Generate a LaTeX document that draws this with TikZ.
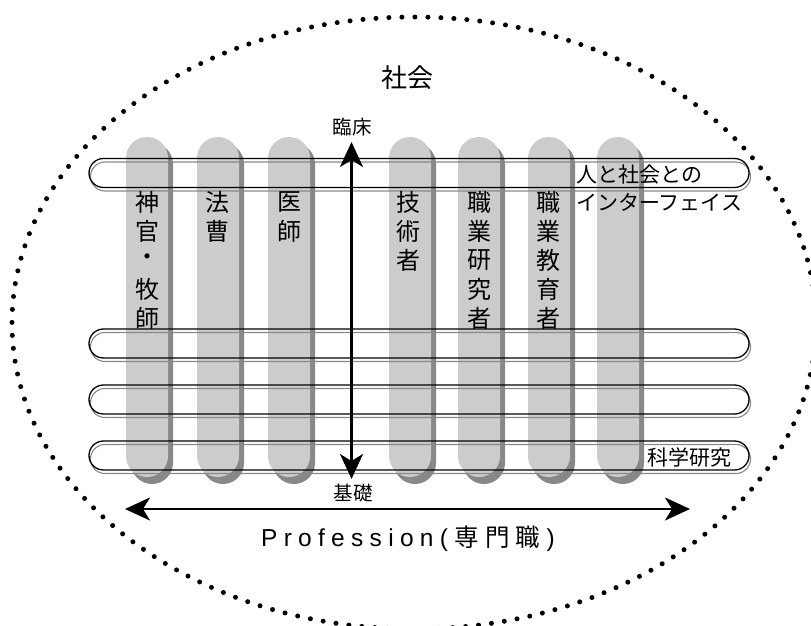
\documentclass[tikz,border=0pt]{standalone}
\usepackage{fontspec}
\newfontfamily\jp{Noto Sans CJK JP}
\newfontfamily\lat{Liberation Sans}
\usetikzlibrary{arrows.meta}
\definecolor{pillarfill}{HTML}{CCCCCC}
\definecolor{shadefill}{HTML}{888888}
\newcommand\lsk{\kern6.3pt}
\begin{document}
\begin{tikzpicture}[x=1pt,y=-1pt,
  pillarbody/.style={fill=pillarfill, rounded corners=21pt},
  pillarshade/.style={fill=shadefill, rounded corners=21pt},
  bandline/.style={draw=black, line width=1.3pt, rounded corners=14.5pt},
  bandshade/.style={draw=shadefill, line width=1.1pt, rounded corners=14.5pt},
  vchar/.style={font=\jp\fontsize{24}{24}\selectfont, inner sep=0pt},
  labeltxt/.style={font=\jp\fontsize{21}{21}\selectfont, inner sep=0pt},
  smalltxt/.style={font=\jp\fontsize{19.5}{19.5}\selectfont, inner sep=0pt},
  bigtxt/.style={font=\jp\fontsize{26}{26}\selectfont, inner sep=0pt},
  dblarrow/.style={line width=2.6pt,
    {Stealth[length=25pt,width=23pt,inset=7pt]}-{Stealth[length=25pt,width=23pt,inset=7pt]}},
  dotted ellipse/.style={line width=5pt, line cap=round, dash pattern=on 0pt off 13pt}
]
\useasboundingbox (0,0) rectangle (811,626);
\clip (0,0) rectangle (811,626);

% society ellipse
\draw[dotted ellipse] (414,323) ellipse [x radius=402, y radius=306];

% pillars
\foreach \L in {126,197,268,389,458,528,597} {
  \fill[pillarshade] (\L+5,143) rectangle (\L+47,484);
  \fill[pillarbody] (\L,137) rectangle (\L+42,477);
}

% bands
\foreach \c in {173,343.5,399.5,455.5} {
  \draw[bandshade] (90.5,\c-11) rectangle (750.5,\c+18);
  \draw[bandline] (89,\c-14.5) rectangle (749,\c+14.5);
}

% vertical arrow
\coordinate (vtop) at (351.5,142);
\coordinate (vbot) at (351.5,479);
\draw[dblarrow] (vtop) -- (vbot);

% horizontal arrow
\coordinate (hleft) at (125,509);
\coordinate (hright) at (690,509);
\draw[dblarrow] (hleft) -- (hright);

% labels
\node[bigtxt] (shakai) at (407,78) {社会};
\node[smalltxt] (rinsho) at (352,127) {臨床};
\node[smalltxt] (kiso) at (353,493) {基礎};
\node[labeltxt, anchor=west] (if1) at (576,175) {人と社会との};
\node[labeltxt, anchor=west] (if2) at (576,202) {インターフェイス};
\node[labeltxt, anchor=west] (kagaku) at (647,458) {科学研究};
\node[inner sep=0pt, font=\fontsize{24.5}{24.5}\selectfont] (prof) at (408,539)
  {\lat P\lsk r\lsk o\lsk f\lsk e\lsk s\lsk s\lsk i\lsk o\lsk n\lsk(\lsk\jp 専\lsk 門\lsk 職\lsk\lat )};

% pillar texts
\foreach \ch [count=\i] in {神,官,・,牧,師}
  \node[vchar] (pa\i) at (147,173+29*\i) {\ch};
\foreach \ch [count=\i] in {法,曹}
  \node[vchar] (pb\i) at (217,173+29*\i) {\ch};
\foreach \ch [count=\i] in {医,師}
  \node[vchar] (pc\i) at (289,173+29*\i) {\ch};
\foreach \ch [count=\i] in {技,術,者}
  \node[vchar] (pd\i) at (408,173+29*\i) {\ch};
\foreach \ch [count=\i] in {職,業,研,究,者}
  \node[vchar] (pe\i) at (479,173+29*\i) {\ch};
\foreach \ch [count=\i] in {職,業,教,育,者}
  \node[vchar] (pf\i) at (548,173+29*\i) {\ch};
\end{tikzpicture}
\end{document}
